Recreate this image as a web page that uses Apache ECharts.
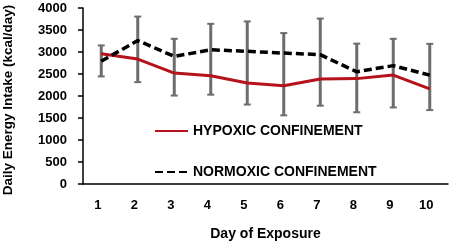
<!DOCTYPE html>
<html>
<head>
<meta charset="utf-8">
<script src="https://cdn.jsdelivr.net/npm/echarts@6/dist/echarts.min.js"></script>
<style>
html, body { margin: 0; padding: 0; background: #fff; }
#chart { width: 454px; height: 246px; }
</style>
</head>
<body>
<div id="chart"></div>
<script>
const days = ['1', '2', '3', '4', '5', '6', '7', '8', '9', '10']
const hypoxic = [2960, 2840, 2520, 2460, 2295, 2235, 2385, 2395, 2475, 2160]
const hypoxicSd = [515, 525, 510, 430, 490, 675, 605, 765, 735, 480]
const normoxic = [2790, 3260, 2900, 3050, 3015, 2975, 2940, 2550, 2690, 2475]
const normoxicSd = [360, 545, 400, 590, 680, 455, 820, 640, 610, 710]
const yTicks = { min: 0, max: 4000, step: 500 }

const font = 'Liberation Sans, Arial, sans-serif'

// one whisker per day: from hypoxic mean - sd up to normoxic mean + sd
function errorBar(params, api) {
    const i = api.value(0)
    const lo = api.coord([i, api.value(1)])
    const hi = api.coord([i, api.value(2)])
    const half = 3.5
    const bar = { stroke: '#6d6d6d', lineWidth: 3 }
    const cap = { stroke: '#6d6d6d', lineWidth: 2 }
    return {
        type: 'group',
        children: [
            { type: 'line', shape: { x1: hi[0], y1: hi[1], x2: lo[0], y2: lo[1] }, style: bar },
            { type: 'line', shape: { x1: hi[0] - half, y1: hi[1], x2: hi[0] + half, y2: hi[1] }, style: cap },
            { type: 'line', shape: { x1: lo[0] - half, y1: lo[1], x2: lo[0] + half, y2: lo[1] }, style: cap }
        ]
    }
}

const whiskers = days.map((d, i) => [i, hypoxic[i] - hypoxicSd[i], normoxic[i] + normoxicSd[i]])

const chart = echarts.init(document.getElementById('chart'))
chart.setOption({
    animation: false,
    grid: { left: 83, right: 6, top: 8, bottom: 62, outerBoundsMode: 'none' },
    legend: {
        orient: 'vertical',
        left: 149,
        top: 119,
        itemWidth: 33,
        itemHeight: 14,
        itemGap: 27,
        itemStyle: { opacity: 0 },
        data: ['HYPOXIC CONFINEMENT', 'NORMOXIC CONFINEMENT'],
        textStyle: { fontFamily: font, fontWeight: 'bold', fontSize: 14, color: '#000' }
    },
    xAxis: {
        type: 'category',
        data: days,
        boundaryGap: true,
        name: 'Day of Exposure',
        nameLocation: 'middle',
        nameGap: 43,
        nameTextStyle: { fontFamily: font, fontWeight: 'bold', fontSize: 14, color: '#000' },
        axisLine: { lineStyle: { color: '#000', width: 1.5 } },
        axisTick: { length: 7, lineStyle: { color: '#000', width: 1.5 } },
        axisLabel: { margin: 15, padding: [0, 7, 0, 0], fontFamily: font, fontWeight: 'bold', fontSize: 13, color: '#000' },
        splitLine: { show: false }
    },
    yAxis: {
        type: 'value',
        min: yTicks.min,
        max: yTicks.max,
        interval: yTicks.step,
        name: 'Daily Energy Intake (kcal/day)',
        nameLocation: 'middle',
        nameGap: 68,
        nameTextStyle: { fontFamily: font, fontWeight: 'bold', fontSize: 13.5, color: '#000', padding: [0, 8, 0, 0] },
        axisLine: { show: true, lineStyle: { color: '#000', width: 1.5 } },
        axisTick: { show: true, length: 5, lineStyle: { color: '#000', width: 1.5 } },
        axisLabel: { margin: 16, formatter: v => String(v), fontFamily: font, fontWeight: 'bold', fontSize: 13, color: '#000' },
        splitLine: { show: false }
    },
    series: [
        {
            type: 'custom',
            renderItem: errorBar,
            data: whiskers,
            encode: { x: 0, y: [1, 2] },
            z: 1,
            silent: true
        },
        {
            name: 'HYPOXIC CONFINEMENT',
            type: 'line',
            data: hypoxic,
            symbol: 'none',
            z: 3,
            itemStyle: { color: '#b5121b' },
            lineStyle: { color: '#b5121b', width: 3 }
        },
        {
            name: 'NORMOXIC CONFINEMENT',
            type: 'line',
            data: normoxic,
            symbol: 'none',
            z: 4,
            itemStyle: { color: '#000' },
            lineStyle: { color: '#000', width: 3.5, type: [8, 4] }
        }
    ]
})
</script>
</body>
</html>
